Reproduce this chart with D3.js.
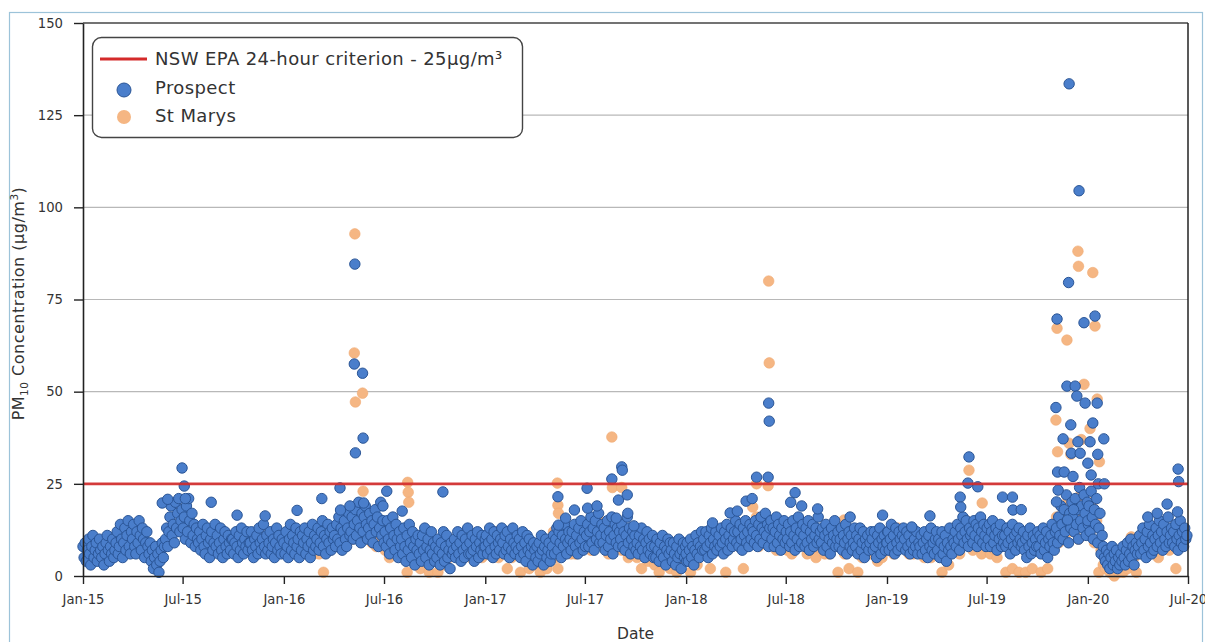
<!DOCTYPE html>
<html>
<head>
<meta charset="utf-8">
<script src="https://cdn.jsdelivr.net/npm/d3@7"></script>
<style>
  html, body { margin: 0; padding: 0; background: #ffffff; }
  svg { display: block; font-family: "DejaVu Sans", "Noto Sans", sans-serif; }
</style>
</head>
<body>
<svg id="chart" width="1205" height="642"></svg>
<script>
// Daily PM10 (µg/m³) at Prospect, sampled every second day from 1 January of each year
const prospect2015 = [
  8,5,9,4,7,10,6,3,8,11,5,7,9,4,6,
  10,7,5,8,3,6,9,11,7,4,8,6,10,5,
  7,9,12,6,8,14,10,5,9,13,7,11,15,8,6,12,
  10,14,8,6,12,9,15,11,7,13,10,5,9,12,8,
  6,9,4,7,2,5,8,3,6,1,4,7,9,5,8,
  10,13,8,12,16,19,11,14,9,20,13,17,21,12,15,
  18,13,16,10,19,12,21,15,9,17,11,14,8,13,10,
  9,12,7,10,14,8,6,11,13,9,5,10,12,7,9,14,
  8,11,6,9,13,7,5,10,12,8,6,11,9,7,10,
  10,6,9,12,8,5,11,7,13,9,6,10,8,12,7,9,
  9,12,7,5,10,8,11,6,13,9,7,10,14,8,6,
  11,7,9,12,6,8,10,5,9,13,7,11,8,6,10
];
const prospect2016 = [
  9,6,12,8,5,10,14,7,11,9,6,13,8,10,5,12,
  7,11,9,13,6,10,8,12,5,9,14,7,11,8,
  10,13,7,9,12,15,8,11,6,10,14,9,12,7,13,10,
  11,8,14,10,16,9,13,7,12,15,10,8,13,17,11,
  12,16,10,14,18,11,15,20,13,9,17,12,16,19,14,10,
  13,17,11,15,9,14,18,12,16,8,13,20,11,15,9,
  12,8,15,10,6,13,9,16,11,7,14,10,5,12,8,
  10,6,13,8,4,11,7,14,9,5,12,8,3,10,7,11,
  6,9,4,11,7,13,5,8,10,3,7,12,6,9,4,
  8,5,10,7,3,9,6,12,4,8,11,5,7,2,9,6,
  7,10,5,8,12,6,9,4,11,7,5,10,8,13,6,
  9,6,11,7,4,10,8,12,5,9,7,11,6,8,10
];
const prospect2017 = [
  8,11,6,9,13,7,10,5,12,8,6,11,9,7,10,13,
  9,6,11,7,12,8,5,10,7,13,9,6,8,11,
  7,10,5,8,12,6,9,4,11,7,10,6,8,3,9,7,
  5,8,4,9,6,11,7,3,8,10,5,7,9,4,6,
  8,11,6,10,13,7,12,9,5,11,8,14,10,6,9,12,
  10,7,12,9,14,8,11,6,13,9,15,10,7,12,8,
  11,14,8,12,16,9,13,7,15,10,12,17,9,11,14,
  9,13,7,11,15,8,12,10,16,6,11,14,9,13,8,12,
  10,14,8,12,7,11,16,9,13,6,10,12,8,11,7,
  9,6,11,8,13,7,10,5,9,12,7,10,6,8,11,5,
  8,5,10,7,4,9,6,11,5,8,3,7,10,6,9,
  7,4,9,6,3,8,5,10,6,2,7,9,5,8,4
];
const prospect2018 = [
  6,9,4,7,10,5,8,3,7,11,6,9,5,8,12,7,
  10,7,12,8,5,11,9,13,6,10,8,12,7,9,
  11,8,13,9,6,12,10,14,7,11,9,13,8,10,12,15,
  9,12,8,14,10,7,13,11,15,9,12,8,14,10,13,
  12,9,15,11,8,14,10,16,13,9,12,17,11,14,8,13,
  15,10,13,8,12,16,9,14,11,7,13,10,15,9,12,
  10,14,8,12,9,15,11,7,13,10,16,8,12,9,14,
  11,8,13,9,15,7,12,10,14,8,11,13,9,16,10,12,
  9,13,7,11,14,8,12,10,6,13,9,11,15,8,10,
  12,8,10,13,7,11,9,14,6,10,12,8,11,7,9,13,
  8,11,6,10,13,7,9,12,5,10,8,11,7,9,12,
  10,7,12,8,5,11,9,13,6,10,8,11,7,9,12
];
const prospect2019 = [
  9,12,7,10,14,8,11,6,13,9,7,12,10,8,11,13,
  10,7,12,8,11,6,9,13,7,10,8,12,6,9,
  8,11,6,9,12,7,10,5,11,8,13,7,9,6,10,12,
  7,10,5,9,12,6,8,11,4,9,7,13,8,6,10,
  9,12,8,14,10,7,13,11,16,9,12,15,10,8,13,11,
  12,9,15,11,14,8,13,10,16,12,9,14,11,8,13,
  10,14,8,12,15,9,11,13,7,12,10,14,8,11,9,
  11,8,13,9,12,6,10,14,8,11,7,12,9,13,10,8,
  9,12,7,10,5,11,8,13,6,9,11,7,10,8,12,
  8,11,6,10,13,7,9,12,5,10,8,11,14,9,7,12,
  13,9,16,11,19,14,10,18,12,22,15,9,17,13,20,
  16,12,21,14,18,10,24,15,19,13,22,17,11,20,14
];
const prospect2020 = [
  15,19,12,23,16,10,18,14,21,9,13,17,6,11,8,5,
  4,7,3,6,2,5,8,3,6,4,7,2,5,3,
  6,4,8,5,3,7,9,4,6,10,5,8,3,7,9,6,
  8,11,6,9,13,7,10,5,12,8,14,9,6,11,7,
  10,13,8,11,15,9,12,7,14,10,8,12,16,9,11,
  13,9,12,8,14,10,7,11,15,9,12,8,13,10,11
];
// Prospect high days
const prospectPeaks = [
  ["2015-05-25",19.8],["2015-06-04",20.8],["2015-06-30",29.3],["2015-07-04",24.4],["2015-07-06",21],
  ["2015-08-22",20],["2015-10-08",16.5],["2015-11-28",16.3],["2016-01-25",17.8],["2016-03-10",21],
  ["2016-04-12",23.9],["2016-04-13",17.9],["2016-04-30",19],
  ["2016-05-08",57.5],["2016-05-09",84.6],["2016-05-10",33.4],["2016-05-23",55],["2016-05-24",37.4],["2016-05-25",19.8],
  ["2016-06-29",19],["2016-07-06",23],["2016-08-03",17.6],["2016-10-16",22.8],
  ["2017-05-13",21.5],["2017-05-14",13.8],["2017-05-27",15.7],["2017-06-12",17.9],["2017-07-05",23.8],["2017-07-06",18.4],
  ["2017-07-23",19],["2017-08-19",26.3],["2017-08-27",15.7],["2017-08-31",20.6],["2017-09-06",29.6],["2017-09-07",28.7],
  ["2017-09-16",22],["2017-09-17",17],["2017-09-28",13.6],
  ["2018-02-18",14.4],["2018-03-22",17.1],["2018-04-04",17.6],["2018-04-20",20.3],["2018-05-01",21],["2018-05-09",26.8],
  ["2018-05-30",26.8],["2018-05-31",46.9],["2018-06-01",42],["2018-07-10",20],["2018-07-18",22.6],["2018-07-30",19],
  ["2018-08-28",18.2],["2018-10-26",16],["2018-12-24",16.5],["2019-02-15",13.3],["2019-03-20",16.3],
  ["2019-05-14",21.4],["2019-05-15",18.7],["2019-05-28",25.2],["2019-05-30",32.3],["2019-06-15",24.2],
  ["2019-07-30",21.4],["2019-08-17",21.4],["2019-08-18",17.9],["2019-09-02",18],
  ["2019-11-04",45.7],["2019-11-05",20.1],["2019-11-06",69.7],["2019-11-07",28.2],["2019-11-08",23.3],["2019-11-17",37.2],
  ["2019-11-19",28.2],["2019-11-24",51.5],["2019-11-25",15.2],["2019-11-27",79.6],["2019-11-28",133.5],["2019-12-01",41],
  ["2019-12-02",33.3],["2019-12-05",27],["2019-12-06",18],["2019-12-09",51.5],["2019-12-12",48.8],["2019-12-14",36.4],
  ["2019-12-16",104.5],["2019-12-18",33.3],["2019-12-25",68.7],["2019-12-27",46.9],["2020-01-01",30.6],["2020-01-05",36.4],
  ["2020-01-07",27.4],["2020-01-10",41.5],["2020-01-14",70.5],["2020-01-18",46.9],["2020-01-19",33],["2020-01-20",25],
  ["2020-01-30",37.2],["2020-01-31",25],["2020-04-19",16],["2020-05-06",17],["2020-05-24",19.5],["2020-06-12",17.4],
  ["2020-06-13",29],["2020-06-14",25.6]
];

// Daily PM10 (µg/m³) at St Marys, sampled every fourth day from 1 March 2016
const stMarys2016 = [
  9,6,11,1,8,12,7,10,
  12,9,14,8,11,16,10,
  14,10,17,12,15,11,18,13,
  15,11,9,14,8,13,10,
  11,7,13,5,9,6,12,8,
  9,5,11,1,7,12,8,4,
  6,2,9,5,11,1,7,
  4,8,1,6,10,3,7,5,
  8,6,10,6,5,9,7,
  6,9,5,7,11,6,8,5
];
const stMarys2017 = [
  10,6,6,9,7,12,5,8,
  7,11,2,9,5,10,6,
  8,1,6,10,4,2,7,5,
  3,7,1,6,9,2,5,
  7,12,5,2,10,13,6,9,
  9,6,13,6,8,11,7,
  12,8,14,7,10,13,9,15,
  10,14,7,6,12,9,13,8,
  11,7,13,9,5,10,6,
  8,5,10,2,7,11,4,9,
  6,3,9,1,7,5,10,
  5,2,8,4,1,7,3,6
];
const stMarys2018 = [
  5,8,1,6,10,3,7,9,
  9,6,11,2,8,12,7,
  10,7,13,1,9,12,8,14,
  11,8,13,2,9,12,10,
  13,10,16,8,12,15,9,14,
  12,9,14,7,11,8,13,
  11,7,13,6,10,14,8,12,
  10,13,6,9,12,7,5,11,
  8,12,6,10,6,13,9,
  10,1,8,12,6,9,2,11,
  7,10,1,9,5,11,8,
  9,6,11,7,4,10,5,8
];
const stMarys2019 = [
  10,7,12,6,9,13,8,11,
  8,11,6,9,6,12,7,
  7,10,5,8,11,5,9,6,
  6,9,1,8,11,3,7,
  10,13,7,6,12,9,15,11,
  11,7,13,9,15,6,10,
  9,12,6,11,7,5,10,8,
  10,1,12,7,2,11,9,1,
  8,11,1,9,6,2,10,
  7,10,1,9,12,2,8,11,
  12,16,9,19,14,11,17,
  15,20,12,17,10,22,14,18
];
const stMarys2020 = [
  16,12,20,9,15,1,7,3,
  2,5,1,4,0,3,1,
  4,1,6,2,8,3,5,1,
  7,10,6,8,12,6,9,
  9,12,5,10,14,8,11,7,
  12,8,2,10,13,9,11
];
// St Marys high days
const stMarysPeaks = [
  ["2016-05-08",60.5],["2016-05-09",92.8],["2016-05-10",47.2],["2016-05-23",49.6],["2016-05-24",23],
  ["2016-08-13",25.4],["2016-08-14",22.7],["2016-08-15",20],["2016-09-05",10.6],
  ["2017-05-12",25.2],["2017-05-13",19.2],["2017-05-14",17],["2017-08-19",37.7],["2017-08-20",24],
  ["2017-09-06",24],["2017-08-27",13],
  ["2018-05-09",25],["2018-05-30",24.5],["2018-05-31",80],["2018-06-01",57.8],["2018-05-02",18.7],["2018-10-15",15.2],
  ["2019-05-30",28.7],["2019-06-23",19.8],
  ["2019-11-04",42.3],["2019-11-06",67.2],["2019-11-07",33.7],["2019-11-24",64],["2019-11-26",20.8],["2019-11-28",36],
  ["2019-12-01",33],["2019-12-13",20.8],["2019-12-14",88.1],["2019-12-15",84],["2019-12-20",37],["2019-12-25",52],
  ["2020-01-05",40],["2020-01-10",82.3],["2020-01-14",67.8],["2020-01-18",48],["2020-01-22",31],["2020-03-20",10.6]
];

const yTicks = [0, 25, 50, 75, 100, 125, 150];
const criterion = 25;
const legendLabels = ["NSW EPA 24-hour criterion - 25µg/m³", "Prospect", "St Marys"];

(function draw() {
  const parse = d3.timeParse("%Y-%m-%d");
  function run(start, step, values) {
    const s = parse(start);
    return values.map((v, i) => ({ date: d3.timeDay.offset(s, i * step), value: v }));
  }
  function peaks(list) { return list.map(([d, v]) => ({ date: parse(d), value: v })); }

  const prospect = [].concat(
    run("2015-01-01", 2, prospect2015), run("2016-01-01", 2, prospect2016),
    run("2017-01-01", 2, prospect2017), run("2018-01-01", 2, prospect2018),
    run("2019-01-01", 2, prospect2019), run("2020-01-01", 2, prospect2020),
    peaks(prospectPeaks)
  );
  const stMarys = [].concat(
    run("2016-03-01", 4, stMarys2016), run("2017-01-01", 4, stMarys2017),
    run("2018-01-01", 4, stMarys2018), run("2019-01-01", 4, stMarys2019),
    run("2020-01-01", 4, stMarys2020), peaks(stMarysPeaks)
  );

  const svg = d3.select("#chart");
  const pl = 83, pr = 1188, pt = 23, pb = 576;

  // page frame
  svg.append("rect").attr("x", 9.5).attr("y", 12.5).attr("width", 1193).attr("height", 660)
    .attr("fill", "none").attr("stroke", "#9cc3d9").attr("stroke-width", 1.2);

  const x = d3.scaleTime().domain([parse("2015-01-01"), parse("2020-07-01")]).range([pl, pr]);
  const y = d3.scaleLinear().domain([0, 150]).range([pb, pt]);

  // horizontal gridlines
  svg.append("g").selectAll("line").data(yTicks.filter(t => t > 0 && t < 150)).join("line")
    .attr("x1", pl).attr("x2", pr).attr("y1", d => y(d)).attr("y2", d => y(d))
    .attr("stroke", "#b8b8b8").attr("stroke-width", 1.2);

  // St Marys behind Prospect
  svg.append("g").selectAll("circle").data(stMarys).join("circle")
    .attr("cx", d => x(d.date)).attr("cy", d => y(d.value)).attr("r", 5.3)
    .attr("fill", "#f5b683").attr("stroke", "#f0aa72").attr("stroke-width", 0.6);

  svg.append("g").selectAll("circle").data(prospect).join("circle")
    .attr("cx", d => x(d.date)).attr("cy", d => y(d.value)).attr("r", 5.2)
    .attr("fill", "#4a7ecb").attr("stroke", "#2a5596").attr("stroke-width", 1);

  // criterion line
  svg.append("line").attr("x1", pl).attr("x2", pr)
    .attr("y1", y(criterion)).attr("y2", y(criterion))
    .attr("stroke", "#d42a2a").attr("stroke-width", 2.6).attr("opacity", 0.9);

  // frame top and right
  svg.append("line").attr("x1", pl).attr("x2", pr).attr("y1", y(150)).attr("y2", y(150))
    .attr("stroke", "#444").attr("stroke-width", 1.5);
  svg.append("line").attr("x1", pr).attr("x2", pr).attr("y1", pt).attr("y2", pb)
    .attr("stroke", "#222").attr("stroke-width", 1.5);

  // axes
  const xAxis = d3.axisBottom(x).ticks(d3.timeMonth.every(6)).tickFormat(d3.timeFormat("%b-%y"))
    .tickSizeInner(8).tickSizeOuter(0).tickPadding(11);
  const gx = svg.append("g").attr("transform", `translate(0,${pb})`).call(xAxis);
  const yAxis = d3.axisLeft(y).tickValues(yTicks).tickSizeInner(9).tickSizeOuter(0).tickPadding(11);
  const gy = svg.append("g").attr("transform", `translate(${pl},0)`).call(yAxis);
  [gx, gy].forEach(g => {
    g.select(".domain").attr("stroke", "#222").attr("stroke-width", 1.6);
    g.selectAll(".tick line").attr("stroke", "#222").attr("stroke-width", 1.4);
    g.selectAll(".tick text").attr("fill", "#333").attr("font-size", 13.2)
      .attr("font-family", "'DejaVu Sans', 'Noto Sans', sans-serif");
  });

  // axis titles
  svg.append("text").attr("x", (pl + pr) / 2).attr("y", 639).attr("text-anchor", "middle")
    .attr("font-size", 15.5).attr("fill", "#333").text("Date");
  const yl = svg.append("text").attr("transform", `translate(24,${(pt + pb) / 2 + 4}) rotate(-90)`)
    .attr("text-anchor", "middle").attr("font-size", 16).attr("letter-spacing", 0.5).attr("fill", "#333");
  yl.append("tspan").text("PM");
  yl.append("tspan").attr("font-size", 10.5).attr("dy", 4).text("10");
  yl.append("tspan").attr("dy", -4).text(" Concentration (µg/m");
  yl.append("tspan").attr("font-size", 10.5).attr("dy", -6).text("3");
  yl.append("tspan").attr("dy", 6).text(")");

  // legend
  const lg = svg.append("g");
  lg.append("rect").attr("x", 92.5).attr("y", 37.5).attr("width", 430).attr("height", 100).attr("rx", 9)
    .attr("fill", "#fff").attr("stroke", "#444").attr("stroke-width", 1.4);
  lg.append("line").attr("x1", 100).attr("x2", 147).attr("y1", 59).attr("y2", 59)
    .attr("stroke", "#d42a2a").attr("stroke-width", 2.8);
  lg.append("circle").attr("cx", 124).attr("cy", 90).attr("r", 7)
    .attr("fill", "#4a7ecb").attr("stroke", "#2a5596").attr("stroke-width", 1);
  lg.append("circle").attr("cx", 124).attr("cy", 117).attr("r", 7).attr("fill", "#f5b683");
  lg.selectAll("text.lab").data(legendLabels).join("text").attr("class", "lab")
    .attr("x", 155).attr("y", (d, i) => [65, 94, 122][i])
    .attr("font-size", 18).attr("letter-spacing", 0.4).attr("fill", "#333").text(d => d);
})();
</script>
</body>
</html>
